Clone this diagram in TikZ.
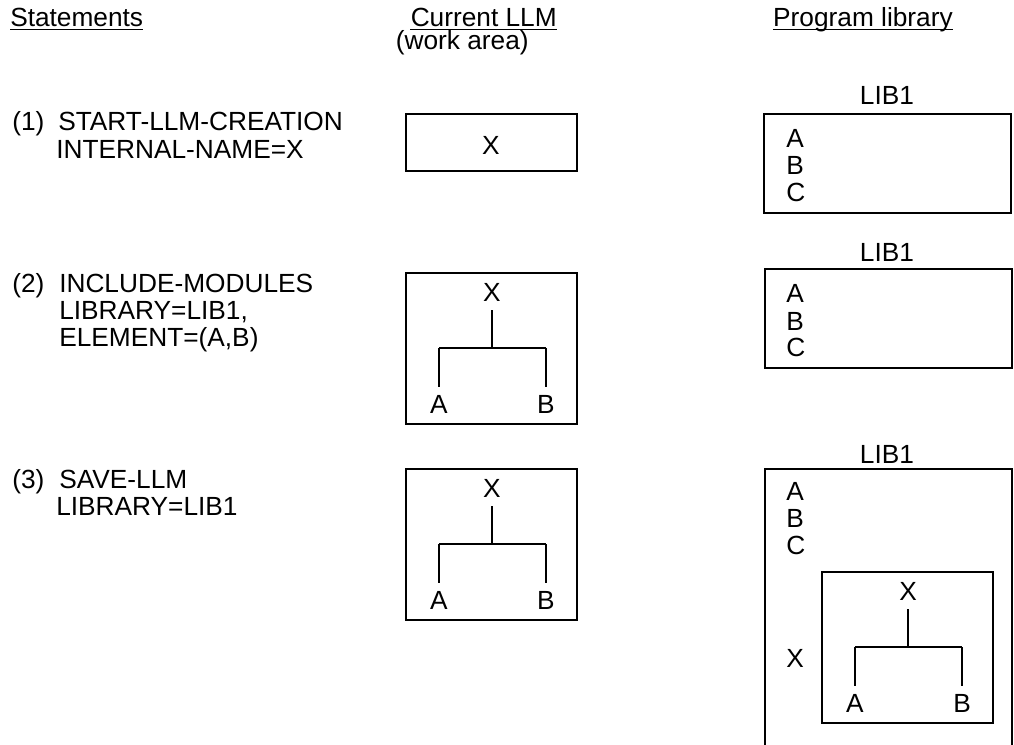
\documentclass[tikz,border=0pt]{standalone}
\usepackage{fontspec}
\setmainfont{Liberation Sans}

% one unit = one pixel of a 1014 x 745 canvas, y grows downwards
\tikzset{
  canvas/.style={x=0.75pt, y=-0.75pt},
  lbl/.style={inner sep=0pt, anchor=base west, font=\fontsize{19.7}{20}\selectfont},
  clbl/.style={lbl, anchor=base},
  rlbl/.style={lbl, anchor=base east},
  frame/.style={draw, line width=1.1pt},
  link/.style={line width=1.1pt},
  uline/.style={line width=1.1pt},
}

% a work-area box holding the module tree X -> (A, B)
% #1 name prefix, #2 left edge, #3 top edge
\newcommand\treebox[3]{%
  \draw[frame] (#2,#3) rectangle ++(171,151);
  \node[clbl] (#1X) at (#2+86,#3+28) {X};
  \node[clbl] (#1A) at (#2+33,#3+140) {A};
  \node[clbl] (#1B) at (#2+140,#3+140) {B};
  \coordinate (#1J) at (#2+86,#3+75);
  \draw[link] ([yshift=-6.75pt]#1X.south) -- (#1J);
  \draw[link] (#1A.north |- #1J) -- (#1B.north |- #1J);
  \draw[link] (#1A.north |- #1J) -- ([yshift=6pt]#1A.north);
  \draw[link] (#1B.north |- #1J) -- ([yshift=6pt]#1B.north);
}

\begin{document}
\begin{tikzpicture}[canvas]
\useasboundingbox (0,0) rectangle (1014,745);

% column headings
\node[lbl]  (hst)  at (10,27)  {Statements};
\node[rlbl] (hllm) at (557,27) {Current LLM};
\node[rlbl] (hwa)  at (529,50) {(work area)};
\node[rlbl] (hlib) at (953,27) {Program library};
\foreach \h in {hst,hllm,hlib}
  \draw[uline] ([yshift=-2pt]\h.base west) -- ([yshift=-2pt]\h.base east);

% statements
\node[lbl] (n1)  at (12,131) {(1)};
\node[lbl] (s1a) at (58,131) {START-LLM-CREATION};
\node[lbl] (s1b) at (56,159) {INTERNAL-NAME=X};

\node[lbl] (n2)  at (12,293) {(2)};
\node[lbl] (s2a) at (59,293) {INCLUDE-MODULES};
\node[lbl] (s2b) at (59,320) {LIBRARY=LIB1,};
\node[lbl] (s2c) at (59,347) {ELEMENT=(A,B)};

\node[lbl] (n3)  at (12,488) {(3)};
\node[lbl] (s3a) at (59,488) {SAVE-LLM};
\node[lbl] (s3b) at (56,515) {LIBRARY=LIB1};

% current LLM after each statement
\draw[frame] (406,114) rectangle (577,171);
\node[clbl] (w1X) at (491,155) {X};
\treebox{w2}{406}{273}
\treebox{w3}{406}{469}

% program library after each statement
\node[clbl] (l1) at (887,105) {LIB1};
\draw[frame] (764,114) rectangle (1011,213);
\node[lbl] (l1A) at (786,148) {A};
\node[lbl] (l1B) at (786,175) {B};
\node[lbl] (l1C) at (786,202) {C};

\node[clbl] (l2) at (887,262) {LIB1};
\draw[frame] (765,269) rectangle (1012,368);
\node[lbl] (l2A) at (786,303) {A};
\node[lbl] (l2B) at (786,330) {B};
\node[lbl] (l2C) at (786,357) {C};

\node[clbl] (l3) at (887,463) {LIB1};
\draw[frame] (765,745) -- (765,469) -- (1012,469) -- (1012,745);
\node[lbl] (l3A) at (786,500) {A};
\node[lbl] (l3B) at (786,527) {B};
\node[lbl] (l3C) at (786,554) {C};
\node[lbl] (l3X) at (786,667) {X};
\treebox{l3t}{822}{572}
\end{tikzpicture}
\end{document}
